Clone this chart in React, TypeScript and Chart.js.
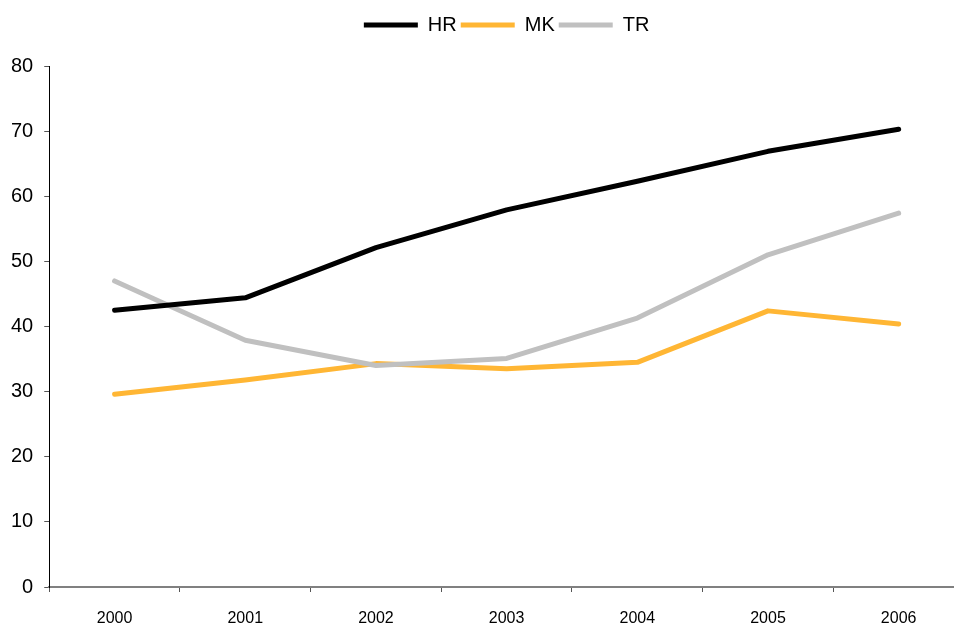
import React, { useEffect, useRef } from "react";
import { Chart, registerables } from "chart.js";

Chart.register(...registerables);

const categories = ["2000", "2001", "2002", "2003", "2004", "2005", "2006"];
const seriesNames = ["HR", "MK", "TR"];
const hrValues = [42.5, 44.4, 52.1, 57.9, 62.3, 66.9, 70.3];
const mkValues = [29.6, 31.8, 34.3, 33.5, 34.5, 42.4, 40.4];
const trValues = [47.0, 37.9, 34.0, 35.1, 41.3, 51.0, 57.4];
const yTicks = [0, 10, 20, 30, 40, 50, 60, 70, 80];

const legendSpacer = {
  id: "legendSpacer",
  afterInit(chart: any) {
    const lg = chart.legend;
    if (!lg || lg.__patched) return;
    const fit = lg.fit;
    lg.fit = function () {
      fit.call(this);
      this.height += 21;
    };
    lg.__patched = true;
  },
};

export default function App() {
  const ref = useRef<HTMLCanvasElement | null>(null);
  useEffect(() => {
    document.body.style.margin = "0";
    document.body.style.overflow = "hidden";
    const ctx = ref.current!;
    const font = "'Liberation Sans', Arial, sans-serif";
    const chart = new Chart(ctx, {
      type: "line",
      data: {
        labels: categories,
        datasets: [
          { label: seriesNames[0], data: hrValues, borderColor: "#000000", backgroundColor: "#000000", order: 0 },
          { label: seriesNames[1], data: mkValues, borderColor: "#FFB634", backgroundColor: "#FFB634", order: 2 },
          { label: seriesNames[2], data: trValues, borderColor: "#C0C0C0", backgroundColor: "#C0C0C0", order: 1 },
        ].map((d) => ({
          ...d,
          borderWidth: 5,
          borderCapStyle: "round" as const,
          borderJoinStyle: "round" as const,
          pointRadius: 0,
          pointHoverRadius: 0,
          tension: 0,
          fill: false,
        })),
      },
      options: {
        responsive: false,
        animation: false,
        devicePixelRatio: 1,
        layout: { padding: { top: 11, left: 0, right: 6, bottom: 0 } },
        plugins: {
          tooltip: { enabled: false },
          legend: {
            position: "top",
            fullSize: false,
            labels: {
              usePointStyle: true,
              pointStyle: "line",
              pointStyleWidth: 54,
              padding: 4,
              color: "#000",
              font: { family: font, size: 20 },
              sort: (a: any, b: any) => a.datasetIndex - b.datasetIndex,
            },
          },
        },
        scales: {
          x: {
            type: "category",
            offset: true,
            afterFit: (scale: any) => {
              scale.height = 41;
            },
            grid: {
              offset: true,
              drawOnChartArea: false,
              drawTicks: true,
              tickLength: 5,
              color: "#555",
            },
            border: { display: true, color: "#808080", width: 2 },
            ticks: {
              color: "#000",
              font: { family: font, size: 16 },
              padding: 17,
              maxRotation: 0,
            },
          },
          y: {
            min: 0,
            max: 80,
            afterBuildTicks: (scale: any) => {
              scale.ticks = yTicks.map((v) => ({ value: v }));
            },
            grid: {
              drawOnChartArea: false,
              drawTicks: true,
              tickLength: 5,
              color: "#555",
            },
            border: { display: true, color: "#000", width: 1 },
            ticks: {
              color: "#000",
              font: { family: font, size: 20 },
              padding: 11,
            },
          },
        },
      },
      plugins: [legendSpacer],
    } as any);
    return () => chart.destroy();
  }, []);
  return (
    <div style={{ position: "fixed", left: 0, top: 0, width: 970, height: 628 }}>
      <canvas ref={ref} width={970} height={628} style={{ width: 970, height: 628 }} />
    </div>
  );
}
